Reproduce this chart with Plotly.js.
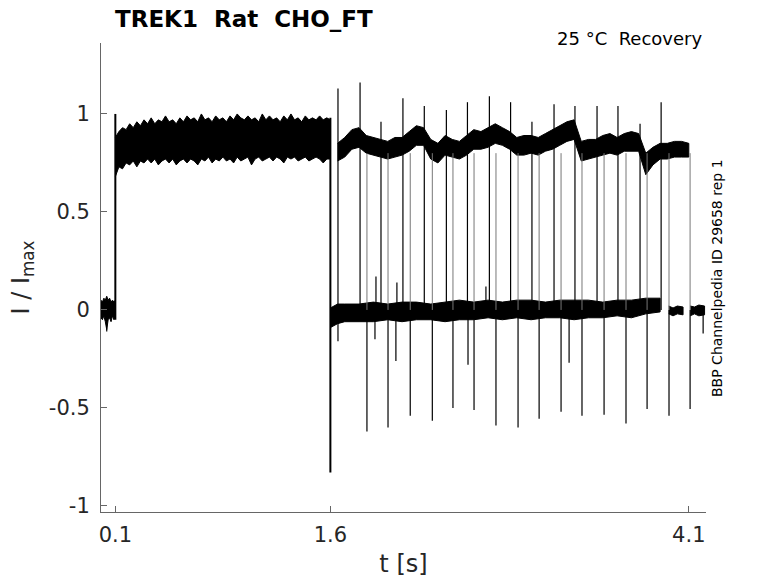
<!DOCTYPE html>
<html>
<head>
<meta charset="utf-8">
<script src="https://cdn.plot.ly/plotly-3.0.1.min.js"></script>
<style>
  body { margin: 0; background: #fff; }
  #chart { width: 778px; height: 583px; }
</style>
</head>
<body>
<div id="chart"></div>
<script>
// holding current before the step (t < 0.1 s)
const baseT  = [0.0, 0.01, 0.02, 0.03, 0.04, 0.05, 0.06, 0.07, 0.08, 0.09, 0.1];
const baseHi = [0.05, 0.04, 0.06, 0.05, 0.07, 0.05, 0.06, 0.04, 0.05, 0.04, 0.05];
const baseLo = [-0.04, -0.05, -0.03, -0.06, -0.1, -0.05, -0.04, -0.06, -0.03, -0.05, -0.04];

// conditioning pulse 0.1 - 1.6 s (noise envelope)
const pulseT  = [0.100, 0.125, 0.150, 0.175, 0.200, 0.225, 0.250, 0.275, 0.300, 0.325,
                 0.350, 0.375, 0.400, 0.425, 0.450, 0.475, 0.500, 0.525, 0.550, 0.575,
                 0.600, 0.625, 0.650, 0.675, 0.700, 0.725, 0.750, 0.775, 0.800, 0.825,
                 0.850, 0.875, 0.900, 0.925, 0.950, 0.975, 1.000, 1.025, 1.050, 1.075,
                 1.100, 1.125, 1.150, 1.175, 1.200, 1.225, 1.250, 1.275, 1.300, 1.325,
                 1.350, 1.375, 1.400, 1.425, 1.450, 1.475, 1.500, 1.525, 1.550, 1.575, 1.600];
const pulseHi = [0.88, 0.91, 0.93, 0.92, 0.95, 0.93, 0.96, 0.94, 0.97, 0.95,
                 0.98, 0.95, 0.97, 0.96, 0.99, 0.96, 0.97, 0.95, 0.98, 0.96,
                 0.99, 0.97, 0.98, 0.96, 1.00, 0.97, 0.98, 0.96, 0.99, 0.97,
                 0.98, 0.96, 0.99, 0.97, 1.00, 0.98, 0.97, 0.99, 0.97, 0.98,
                 0.96, 1.00, 0.97, 0.99, 0.97, 0.98, 0.96, 0.99, 0.97, 1.00,
                 0.97, 0.98, 0.96, 0.99, 0.97, 0.98, 0.97, 0.99, 0.97, 0.98, 0.97];
const pulseLo = [0.68, 0.73, 0.72, 0.75, 0.74, 0.76, 0.73, 0.76, 0.75, 0.77,
                 0.75, 0.77, 0.74, 0.76, 0.77, 0.75, 0.77, 0.74, 0.76, 0.77,
                 0.75, 0.77, 0.76, 0.74, 0.77, 0.76, 0.78, 0.75, 0.77, 0.76,
                 0.78, 0.76, 0.77, 0.75, 0.78, 0.76, 0.77, 0.78, 0.74, 0.77,
                 0.78, 0.76, 0.77, 0.78, 0.76, 0.78, 0.77, 0.75, 0.78, 0.77,
                 0.78, 0.76, 0.77, 0.78, 0.76, 0.77, 0.78, 0.77, 0.75, 0.77, 0.77];

// test pulses level after 1.6 s
const recT  = [1.65, 1.70, 1.75, 1.80, 1.85, 1.90, 1.95, 2.00, 2.05, 2.10, 2.15, 2.20, 2.25, 2.30, 2.35, 2.40, 2.45,
               2.50, 2.55, 2.60, 2.65, 2.70, 2.75, 2.80, 2.85, 2.90, 2.95, 3.00, 3.05, 3.10, 3.15, 3.20, 3.25, 3.30,
               3.35, 3.40, 3.45, 3.50, 3.55, 3.60, 3.65, 3.70, 3.75, 3.80, 3.85, 3.90, 3.95, 4.00, 4.05, 4.10];
const recHi = [0.85, 0.88, 0.92, 0.93, 0.89, 0.88, 0.87, 0.86, 0.88, 0.88, 0.91, 0.94, 0.93, 0.87, 0.85, 0.89, 0.87,
               0.86, 0.89, 0.92, 0.91, 0.93, 0.95, 0.93, 0.91, 0.88, 0.89, 0.89, 0.88, 0.90, 0.92, 0.94, 0.96, 0.97,
               0.86, 0.87, 0.87, 0.89, 0.90, 0.88, 0.90, 0.91, 0.90, 0.80, 0.83, 0.85, 0.85, 0.86, 0.86, 0.85];
const recLo = [0.76, 0.78, 0.82, 0.83, 0.80, 0.79, 0.78, 0.77, 0.78, 0.79, 0.81, 0.84, 0.84, 0.77, 0.75, 0.79, 0.78,
               0.77, 0.79, 0.82, 0.82, 0.83, 0.85, 0.84, 0.82, 0.79, 0.79, 0.80, 0.79, 0.81, 0.82, 0.84, 0.86, 0.87,
               0.76, 0.77, 0.78, 0.79, 0.80, 0.79, 0.81, 0.81, 0.81, 0.69, 0.74, 0.77, 0.77, 0.78, 0.78, 0.78];

// return-to-holding level after 1.6 s
const tailT  = [1.60, 1.65, 1.70, 1.80, 1.90, 2.00, 2.10, 2.20, 2.30, 2.40, 2.50, 2.60, 2.70, 2.80, 2.90, 3.00,
                3.10, 3.20, 3.30, 3.40, 3.50, 3.60, 3.70, 3.80, 3.90];
const tailHi = [0.01, 0.03, 0.03, 0.03, 0.04, 0.03, 0.04, 0.04, 0.03, 0.04, 0.05, 0.04, 0.05, 0.04, 0.05, 0.05,
                0.04, 0.05, 0.05, 0.05, 0.04, 0.05, 0.05, 0.06, 0.06];
const tailLo = [-0.09, -0.07, -0.06, -0.06, -0.06, -0.05, -0.06, -0.05, -0.05, -0.06, -0.05, -0.05, -0.04, -0.05,
                -0.04, -0.05, -0.04, -0.04, -0.05, -0.04, -0.04, -0.03, -0.04, -0.02, -0.01];
const endT  = [3.96, 3.99, 4.02, 4.06];
const endHi = [0.02, 0.01, 0.02, 0.015];
const endLo = [-0.02, -0.03, -0.02, -0.025];
const lastT  = [4.11, 4.14, 4.17, 4.21];
const lastHi = [0.02, 0.015, 0.025, 0.02];
const lastLo = [-0.03, -0.02, -0.03, -0.025];

// capacitive spikes at pulse onsets / offsets
const upT    = [1.653, 1.807, 1.953, 2.106, 2.255, 2.409, 2.556, 2.709, 2.857, 3.006, 3.160, 3.306, 3.460, 3.606, 3.760, 3.907];
const upPeak = [1.13, 1.16, 0.96, 1.08, 1.04, 1.02, 1.06, 1.09, 1.06, 0.96, 1.05, 1.04, 1.04, 1.04, 0.95, 1.06];
const downT      = [1.855, 2.002, 2.157, 2.311, 2.455, 2.602, 2.755, 2.909, 3.056, 3.209, 3.355, 3.509, 3.662, 3.809, 3.962, 4.109];
const downTrough = [-0.62, -0.60, -0.54, -0.565, -0.50, -0.51, -0.59, -0.60, -0.555, -0.52, -0.54, -0.535, -0.58, -0.505, -0.54, -0.505];
const blipT = [1.653, 1.911, 2.057, 2.560, 3.265, 4.200, 1.918, 2.064, 2.685, 0.04];
const blipY = [-0.16, -0.15, -0.26, -0.28, -0.27, -0.12, 0.17, 0.14, 0.12, -0.11];

// main steps
const stepT  = [0.1, 1.6];
const stepLo = [-0.05, -0.83];
const stepHi = [1.0, 0.98];

const yTickVals = [-1, -0.5, 0, 0.5, 1];
const yTickText = ['-1', '-0.5', '0', '0.5', '1'];
const xTickVals = [0.1, 1.6, 4.1];
const xTickText = ['0.1', '1.6', '4.1'];

function band(T, Hi, Lo) {
  return {
    x: T.concat(T.slice().reverse()),
    y: Hi.concat(Lo.slice().reverse()),
    type: 'scatter', mode: 'lines', fill: 'toself',
    fillcolor: '#000', line: { color: '#000', width: 1 },
    hoverinfo: 'skip', showlegend: false
  };
}

function sticks(T, from, to, color, width) {
  const x = [], y = [];
  T.forEach((t, i) => {
    x.push(t, t, null);
    y.push(Array.isArray(from) ? from[i] : from, to[i], null);
  });
  return { x: x, y: y, type: 'scatter', mode: 'lines',
           line: { color: color, width: width }, hoverinfo: 'skip', showlegend: false };
}

const data = [
  band(baseT, baseHi, baseLo),
  band(pulseT, pulseHi, pulseLo),
  band(recT, recHi, recLo),
  band(tailT, tailHi, tailLo),
  band(endT, endHi, endLo),
  band(lastT, lastHi, lastLo),
  sticks(downT, 0.8, downT.map(() => 0), '#777', 1),
  sticks(downT, 0, downTrough, '#000', 1.2),
  sticks(upT, 0, upPeak, '#000', 1.2),
  sticks(blipT, 0, blipY, '#000', 1.2),
  sticks(stepT, stepLo, stepHi, '#000', 2)
];

const axisFont = { family: 'DejaVu Sans', size: 21, color: '#262626' };

const layout = {
  width: 778, height: 583,
  margin: { l: 101, r: 72, t: 43, b: 71 },
  paper_bgcolor: '#fff', plot_bgcolor: '#fff',
  showlegend: false,
  font: { family: 'DejaVu Sans', color: '#262626' },
  xaxis: {
    range: [0, 4.22], showgrid: false, zeroline: false,
    showline: true, linecolor: '#666', linewidth: 1,
    ticks: 'inside', ticklen: 6, tickcolor: '#666',
    tickvals: xTickVals, ticktext: xTickText, tickfont: axisFont,
    ticklabelstandoff: 4,
    title: { text: 't [s]', font: { family: 'DejaVu Sans', size: 24, color: '#262626' }, standoff: 8 }
  },
  yaxis: {
    range: [-1.031, 1.362], showgrid: false, zeroline: false,
    showline: true, linecolor: '#666', linewidth: 1,
    ticks: 'inside', ticklen: 6, tickcolor: '#666',
    tickvals: yTickVals, ticktext: yTickText, tickfont: axisFont,
    ticklabelstandoff: 6,
    title: { text: 'I / I<sub>max</sub>', font: { family: 'DejaVu Sans', size: 24, color: '#262626' }, standoff: 12 }
  },
  title: {
    text: '<b>TREK1\u00a0\u00a0Rat\u00a0\u00a0CHO_FT</b>',
    font: { family: 'DejaVu Sans', size: 23, color: '#000' },
    x: 115 / 778, xanchor: 'left', xref: 'container',
    y: 1 - 19 / 583, yanchor: 'middle', yref: 'container'
  },
  annotations: [
    {
      text: '25 °C\u00a0\u00a0Recovery', xref: 'paper', yref: 'paper',
      x: (704 - 101) / 605, xanchor: 'right', y: 1, yanchor: 'bottom', yshift: -8,
      showarrow: false, font: { family: 'DejaVu Sans', size: 18, color: '#000' }
    },
    {
      text: 'BBP Channelpedia ID 29658 rep 1', xref: 'paper', yref: 'paper',
      x: 1, xanchor: 'center', xshift: 11, y: (512 - 278) / 469, yanchor: 'middle',
      textangle: -90, showarrow: false,
      font: { family: 'DejaVu Sans', size: 14, color: '#000' }
    }
  ]
};

Plotly.newPlot('chart', data, layout, { staticPlot: true, displayModeBar: false });
</script>
</body>
</html>
